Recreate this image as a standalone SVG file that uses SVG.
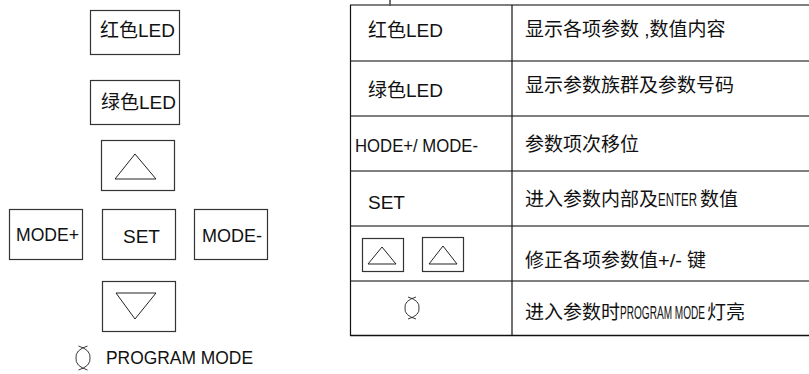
<svg xmlns="http://www.w3.org/2000/svg" width="809" height="374" viewBox="0 0 809 374">
<style>
  .t { font-family: "Liberation Sans", "Noto Sans CJK SC", sans-serif; font-size: 19px; fill: #111; }
  .box { fill: #fff; stroke: #333; stroke-width: 1.2; }
  .tri { fill: none; stroke: #222; stroke-width: 1; }
  .hl { stroke: #555; stroke-width: 1.4; }
  .vl { stroke: #111; stroke-width: 1.2; }
  .lamp { fill: none; stroke: #222; stroke-width: 0.9; }
</style>
<rect width="809" height="374" fill="#fff"/>

<!-- left panel -->
<g id="red-led">
  <rect class="box" x="90.5" y="10.5" width="89" height="44"/>
  <text class="t" x="100" y="37">红色LED</text>
</g>
<g id="green-led">
  <rect class="box" x="90.5" y="80.5" width="89" height="44"/>
  <text class="t" x="101" y="109">绿色LED</text>
</g>
<g id="up-key">
  <rect class="box" x="101.5" y="140.5" width="73" height="50"/>
  <polygon class="tri" points="135,154 115,179 156,179"/>
</g>
<g id="mode-plus">
  <rect class="box" x="9.5" y="209.5" width="73" height="50"/>
  <text class="t" x="16" y="241" textLength="63" lengthAdjust="spacingAndGlyphs">MODE+</text>
</g>
<g id="set-key">
  <rect class="box" x="102.5" y="209.5" width="73" height="50"/>
  <text class="t" x="123" y="243">SET</text>
</g>
<g id="mode-minus">
  <rect class="box" x="194.5" y="209.5" width="73" height="50"/>
  <text class="t" x="202" y="242" textLength="60" lengthAdjust="spacingAndGlyphs">MODE-</text>
</g>
<g id="down-key">
  <rect class="box" x="102.5" y="281.5" width="73" height="50"/>
  <polygon class="tri" points="116,293 156,293 135,319"/>
</g>
<g id="program-mode">
  <path class="lamp" d="M87.5,346 Q75,350 76,358 Q75,366 87.5,370 M78.5,346 Q91,350 90,358 Q91,366 78.5,370"/>
  <text class="t" x="106" y="364" textLength="147" lengthAdjust="spacingAndGlyphs">PROGRAM MODE</text>
</g>

<!-- table -->
<g id="table-grid">
  <line class="vl" x1="390" y1="0" x2="390" y2="6"/>
  <line class="hl" x1="350" y1="5" x2="809" y2="5"/>
  <line class="hl" x1="350" y1="61" x2="809" y2="61"/>
  <line class="hl" x1="350" y1="116" x2="809" y2="116"/>
  <line class="hl" x1="350" y1="171" x2="809" y2="171"/>
  <line class="hl" x1="350" y1="226" x2="809" y2="226"/>
  <line class="hl" x1="350" y1="281" x2="809" y2="281"/>
  <line x1="350" y1="335.5" x2="809" y2="335.5" stroke="#111" stroke-width="1.6"/>
  <line class="vl" x1="350.5" y1="5" x2="350.5" y2="336"/>
  <line class="vl" x1="512" y1="5" x2="512" y2="336"/>
</g>

<g id="row1">
  <text class="t" x="368" y="37">红色LED</text>
  <text class="t" x="525" y="36">显示各项参数 ,数值内容</text>
</g>
<g id="row2">
  <text class="t" x="368" y="97">绿色LED</text>
  <text class="t" x="525" y="92">显示参数族群及参数号码</text>
</g>
<g id="row3">
  <text class="t" x="355" y="152" textLength="123" lengthAdjust="spacingAndGlyphs">HODE+/ MODE-</text>
  <text class="t" x="525" y="151">参数项次移位</text>
</g>
<g id="row4">
  <text class="t" x="368" y="209">SET</text>
  <text class="t" x="525" y="206">进入参数内部及<tspan textLength="39" lengthAdjust="spacingAndGlyphs">ENTER</tspan><tspan x="700">数值</tspan></text>
</g>
<g id="row5">
  <rect class="box" x="362.5" y="238.5" width="41" height="33" stroke-width="1.5"/>
  <polygon class="tri" points="382,247 368,264 396,264" stroke-width="1.3"/>
  <rect class="box" x="422.5" y="237.5" width="41" height="34" stroke-width="1.5"/>
  <polygon class="tri" points="443,246 429,264 457,264" stroke-width="1.3"/>
  <text class="t" x="525" y="267">修正各项参数值<tspan textLength="24" lengthAdjust="spacingAndGlyphs">+/-</tspan><tspan x="687">键</tspan></text>
</g>
<g id="row6">
  <path class="lamp" d="M416,297 Q404,300.5 405,308 Q404,315.5 416,319 M408,297 Q420,300.5 419,308 Q420,315.5 408,319"/>
  <text class="t" x="525" y="319">进入参数时<tspan textLength="85" lengthAdjust="spacingAndGlyphs">PROGRAM MODE</tspan><tspan x="707">灯亮</tspan></text>
</g>
</svg>
